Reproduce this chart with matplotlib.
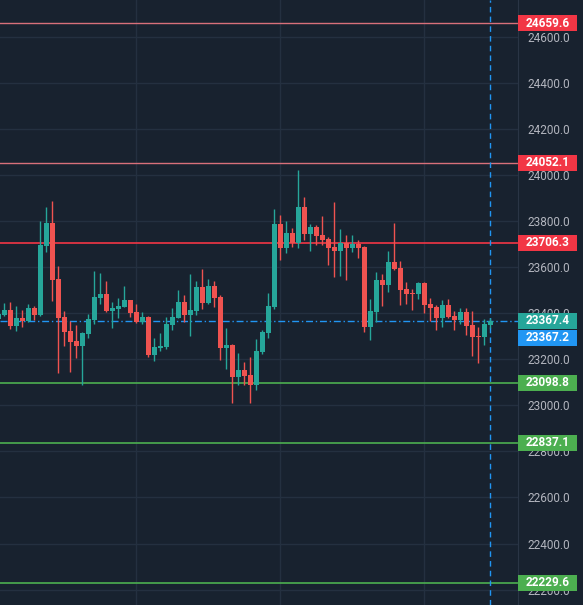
import matplotlib
matplotlib.use("Agg")
import matplotlib.pyplot as plt
from matplotlib.patches import Rectangle
from matplotlib.transforms import blended_transform_factory
import numpy as np

# DATA
opens = [23374.0, 23391.0, 23412.7, 23343.3, 23378.0, 23365.0, 23421.4, 23391.0, 23690.4, 23790.2,
         23547.2, 23382.3, 23321.6, 23278.0, 23256.5, 23308.5, 23369.3, 23464.8, 23482.1, 23408.4,
         23417.0, 23425.7, 23456.1, 23404.0, 23360.6, 23382.3, 23217.4, 23247.8, 23252.1, 23347.6,
         23378.0, 23447.4, 23391.0, 23408.4, 23512.5, 23443.1, 23516.8, 23469.1, 23247.8, 23260.8,
         23121.9, 23152.3, 23130.6, 23087.2, 23230.4, 23312.9, 23425.7, 23785.8, 23681.7, 23746.8,
         23703.4, 23859.6, 23742.5, 23772.8, 23738.1, 23720.8, 23686.0, 23668.7, 23703.4, 23681.7,
         23699.0, 23686.0, 23338.9, 23404.0, 23542.9, 23521.2, 23621.0, 23595.0, 23503.8, 23486.5,
         23482.1, 23529.9, 23438.7, 23425.7, 23378.0, 23434.4, 23386.6, 23369.3, 23404.0, 23347.6,
         23299.9, 23295.5, 23347.6]
highs = [23400.0, 23443.1, 23447.4, 23430.0, 23412.7, 23438.7, 23430.0, 23798.9, 23859.6, 23885.6,
         23603.6, 23408.4, 23365.0, 23347.6, 23317.2, 23395.3, 23582.0, 23573.3, 23538.5, 23447.4,
         23464.8, 23516.8, 23456.1, 23438.7, 23404.0, 23386.6, 23291.2, 23312.9, 23382.3, 23421.4,
         23499.5, 23477.8, 23569.0, 23538.5, 23590.6, 23547.2, 23538.5, 23477.8, 23334.6, 23265.1,
         23226.1, 23187.0, 23208.7, 23286.8, 23325.9, 23486.5, 23850.9, 23824.9, 23798.9, 23768.5,
         24020.2, 23903.0, 23785.8, 23781.5, 23820.6, 23729.4, 23881.3, 23764.2, 23738.1, 23738.1,
         23716.4, 23690.4, 23460.4, 23577.6, 23569.0, 23668.7, 23790.2, 23625.3, 23534.2, 23503.8,
         23534.2, 23534.2, 23464.8, 23434.4, 23456.1, 23460.4, 23408.4, 23421.4, 23421.4, 23408.4,
         23338.9, 23373.6, 23378.0]
lows = [23370.0, 23389.0, 23330.2, 23321.6, 23338.9, 23360.6, 23369.3, 23389.0, 23664.3, 23451.8,
        23139.3, 23256.5, 23143.6, 23204.4, 23087.2, 23291.2, 23351.9, 23438.7, 23404.0, 23334.6,
        23378.0, 23425.7, 23382.3, 23356.3, 23351.9, 23208.7, 23191.4, 23234.8, 23243.5, 23325.9,
        23378.0, 23360.6, 23299.9, 23391.0, 23417.0, 23438.7, 23425.7, 23195.7, 23156.6, 23009.2,
        23087.2, 23087.2, 23009.2, 23065.2, 23221.8, 23291.2, 23417.0, 23629.6, 23660.0, 23686.0,
        23681.7, 23716.4, 23668.7, 23694.7, 23694.7, 23608.0, 23555.9, 23560.2, 23542.9, 23664.3,
        23638.3, 23317.2, 23282.5, 23360.6, 23430.0, 23490.8, 23586.3, 23434.4, 23438.7, 23412.7,
        23460.4, 23399.7, 23365.0, 23325.9, 23338.9, 23378.0, 23325.9, 23351.9, 23304.2, 23213.1,
        23182.7, 23260.8, 23334.6]
closes = [23396.0, 23412.7, 23343.3, 23378.0, 23368.0, 23421.4, 23391.0, 23694.7, 23790.2, 23542.9,
          23378.0, 23317.2, 23273.8, 23256.5, 23312.9, 23373.6, 23469.1, 23482.1, 23408.4, 23421.4,
          23430.0, 23456.1, 23399.7, 23360.6, 23382.3, 23217.4, 23252.1, 23256.5, 23351.9, 23382.3,
          23447.4, 23391.0, 23412.7, 23512.5, 23443.1, 23516.8, 23464.8, 23247.8, 23260.8, 23121.9,
          23152.3, 23126.3, 23087.2, 23234.8, 23317.2, 23430.0, 23785.8, 23681.7, 23746.8, 23703.4,
          23859.6, 23742.5, 23772.8, 23733.9, 23716.4, 23681.7, 23668.7, 23703.4, 23681.7, 23699.0,
          23681.7, 23338.9, 23408.4, 23542.9, 23521.2, 23621.0, 23590.6, 23499.5, 23482.1, 23482.1,
          23529.9, 23434.4, 23421.4, 23378.0, 23434.4, 23382.3, 23369.3, 23404.0, 23343.3, 23295.5,
          23295.5, 23351.9, 23367.4]

resistance_levels = [24659.6, 24052.1, 23706.3]
support_levels = [23098.8, 22837.1, 22229.6]
last_price = 23367.4
marker_price = 23367.2
price_ticks = np.arange(22200, 24601, 200)

# STYLE
bg = "#18222f"
grid_c = "#243040"
up_c = "#26a69a"
down_c = "#ef5350"
res_c = "#f23645"
res_far_c = "#d9707a"   # the two upper levels look paler
sup_c = "#4caf50"
blue_c = "#2196f3"
text_c = "#b2b5be"

W, H = 583, 605
scale_px = 518
y_min, y_max = 22133.3, 24759.7
px_per_unit = H / (y_max - y_min)

fig = plt.figure(figsize=(W / 100, H / 100), dpi=100, facecolor=bg)
ax = fig.add_axes([0, 0, scale_px / W, 1])
ax.set_facecolor(bg)

x = np.arange(len(opens))
o = np.array(opens); c = np.array(closes)
colors = [up_c if cc >= oo else down_c for oo, cc in zip(o, c)]
bottoms = np.minimum(o, c)
heights = np.maximum(np.abs(c - o), 1.2 / px_per_unit)

ax.vlines(x, lows, highs, colors=colors, linewidth=1, zorder=3)
ax.bar(x, heights, bottom=bottoms, width=0.8, color=colors, linewidth=0, zorder=4)

ax.set_xlim(1.67 / 6, (scale_px + 1.67) / 6)
ax.set_ylim(y_min, y_max)

# grid
ax.set_yticks(price_ticks)
ax.set_xticks([23, 47, 71])
ax.grid(True, color=grid_c, linewidth=1)
ax.tick_params(axis="x", length=0, labelbottom=False)
ax.yaxis.tick_right()
ax.tick_params(axis="y", length=0, pad=7, labelcolor=text_c, labelsize=8.5)
for lbl in ax.get_yticklabels():
    lbl.set_fontfamily("Roboto")
ax.yaxis.set_major_formatter(plt.FuncFormatter(lambda v, p: f"{v:.1f}"))
for s in ["top", "bottom", "left"]:
    ax.spines[s].set_visible(False)
ax.spines["right"].set_color("#2a3545")

# levels
for lv in resistance_levels[:2]:
    ax.axhline(lv, color=res_far_c, linewidth=1.0, zorder=2)
ax.axhline(resistance_levels[2], color=res_c, linewidth=1.2, zorder=2)
for lv in support_levels:
    ax.axhline(lv, color=sup_c, linewidth=1.2, zorder=2)
ax.axhline(marker_price, color=blue_c, linewidth=1, linestyle=(0, (5, 2, 1, 2)), zorder=2)
ax.axvline(x[-1], color=blue_c, linewidth=1, linestyle=(0, (4, 3)), zorder=2)

# price labels on the scale
tr = blended_transform_factory(ax.transAxes, ax.transData)
box_w = 59 / scale_px
box_h = 16 / px_per_unit


def price_label(price, color, offset_px=0):
    yc = price - offset_px / px_per_unit
    ax.add_patch(Rectangle((1.0, yc - box_h / 2), box_w, box_h, transform=tr,
                           facecolor=color, edgecolor="none", clip_on=False, zorder=10))
    ax.text(1.0 + box_w / 2, yc, f"{price:.1f}", transform=tr, ha="center", va="center",
            color="white", fontsize=8.5, fontweight="bold", family="Roboto",
            clip_on=False, zorder=11)


for lv in resistance_levels:
    price_label(lv, res_c)
for lv in support_levels:
    price_label(lv, sup_c)
price_label(last_price, up_c)
price_label(marker_price, blue_c, offset_px=17)

fig.savefig("out.png", dpi=100, facecolor=bg)
